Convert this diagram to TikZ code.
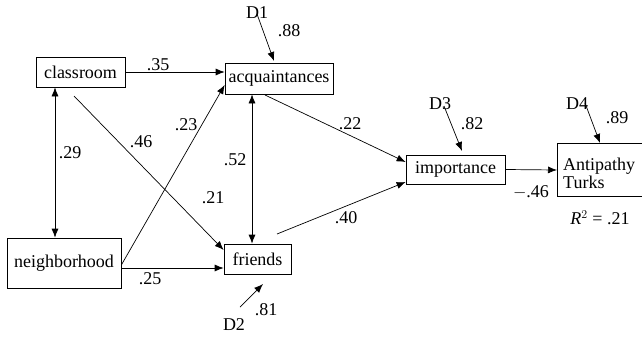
\documentclass[tikz,border=0pt]{standalone}
\usepackage{fontspec}
\setmainfont{Liberation Serif}
\usetikzlibrary{arrows.meta}
\begin{document}
\begin{tikzpicture}[x=1pt,y=-1pt,
  box/.style={draw,line width=0.7pt,inner sep=0pt,font=\fontsize{18}{19}\selectfont},
  lbl/.style={font=\fontsize{18}{19}\selectfont,inner sep=0pt},
  arr/.style={-{Latex[length=9pt,width=7pt]},line width=0.7pt},
  darr/.style={{Latex[length=9pt,width=7pt]}-{Latex[length=9pt,width=7pt]},line width=0.7pt}]
\useasboundingbox (0,0) rectangle (642,337);
% boxes
\node[box,minimum width=89pt,minimum height=30pt] (cls) at (80.5,72) {classroom};
\node[box,minimum width=108pt,minimum height=31pt] (acq) at (279,78.5) {acquaintances};
\node[box,minimum width=114pt,minimum height=50pt] (nbh) at (64,263) {neighborhood};
\node[box,minimum width=67pt,minimum height=30pt] (frd) at (257.5,259) {friends};
\node[box,minimum width=99pt,minimum height=29pt] (imp) at (455.5,169.5) {importance};
\node[font=\fontsize{18}{18}\selectfont,align=left,anchor=north west,inner sep=0pt] (ant) at (563,158) {Antipathy\\Turks};
\draw[line width=0.7pt] (645,143) -- (557,143) -- (557,196) -- (645,196);
\coordinate (antw) at (557,170);
% disturbance labels
\node[lbl] (d1) at (257,13) {D1};
\node[lbl] (d2) at (234,325) {D2};
\node[lbl] (d3) at (440,104) {D3};
\node[lbl] (d4) at (577,104) {D4};
% connectors
\draw[arr] (cls.east) -- (acq.west |- cls.east);
\draw[darr] (cls.south -| 55,0) -- (nbh.north -| 55,0);
\draw[arr] (74,96) -- (frd.west |- 0,250);
\draw[arr] (nbh.east |- 0,265) -- (acq.west |- 0,85);
\draw[darr] (acq.south -| 252,0) -- (frd.north -| 252,0);
\draw[arr] (nbh.east |- 0,268) -- (frd.west |- 0,268);
\draw[arr] (265,95) -- (imp.west |- 0,162);
\draw[arr] (277,234) -- (imp.west |- 0,182);
\draw[arr] (imp.east) -- (antw);
\draw[arr] (257,14) -- (274,61);
\draw[arr] (240,307) -- (263,284);
\draw[arr] (444,106) -- (462,151);
\draw[arr] (585,103) -- (600,143);
% coefficients
\node[lbl] (c35) at (158,65) {.35};
\node[lbl] (c88) at (289,31) {.88};
\node[lbl] (c29) at (70,153) {.29};
\node[lbl] (c46) at (141,142) {.46};
\node[lbl] (c23) at (186,125) {.23};
\node[lbl] (c52) at (235,160) {.52};
\node[lbl] (c21) at (213,198) {.21};
\node[lbl] (c25) at (150,279) {.25};
\node[lbl] (c81) at (266,310) {.81};
\node[lbl] (c22) at (350,124) {.22};
\node[lbl] (c40) at (346,218) {.40};
\node[lbl] (c82) at (472,124) {.82};
\node[lbl] (c46b) at (531,192) {$-$.46};
\node[lbl] (c89) at (617,118) {.89};
\node[lbl] (r2) at (600,218) {\textit{R}$^{2}$ = .21};
\end{tikzpicture}
\end{document}
